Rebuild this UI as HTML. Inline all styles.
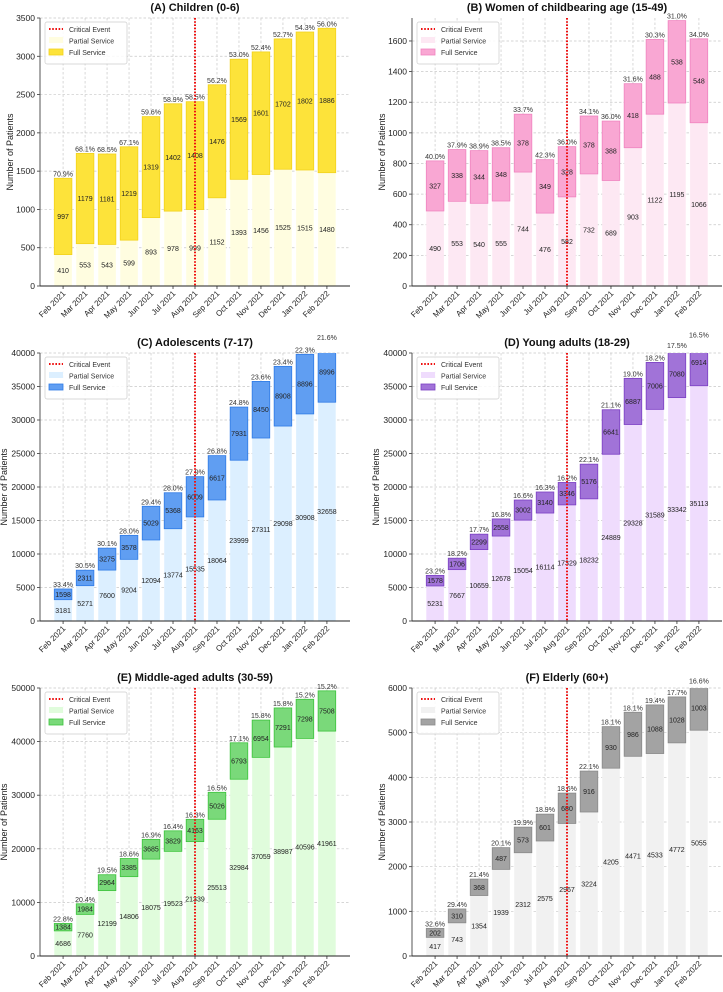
<!DOCTYPE html>
<html><head><meta charset="utf-8">
<style>
html,body{margin:0;padding:0;background:#fff;}
svg{display:block;font-family:"Liberation Sans","DejaVu Sans",sans-serif;}
</style></head>
<body>
<svg id="chart" width="723" height="992" viewBox="0 0 723 992" xmlns="http://www.w3.org/2000/svg"></svg>
<script>
const months = ["Feb 2021","Mar 2021","Apr 2021","May 2021","Jun 2021","Jul 2021","Aug 2021","Sep 2021","Oct 2021","Nov 2021","Dec 2021","Jan 2022","Feb 2022"];
const criticalIndex = 6;

const partialA = [410,553,543,599,893,978,999,1152,1393,1456,1525,1515,1480];
const fullA = [997,1179,1181,1219,1319,1402,1408,1476,1569,1601,1702,1802,1886];
const ticksA = [0,500,1000,1500,2000,2500,3000,3500];

const partialB = [490,553,540,555,744,476,582,732,689,903,1122,1195,1066];
const fullB = [327,338,344,348,378,349,328,378,388,418,488,538,548];
const ticksB = [0,200,400,600,800,1000,1200,1400,1600];

const partialC = [3181,5271,7600,9204,12094,13774,15535,18064,23999,27311,29098,30908,32658];
const fullC = [1598,2311,3275,3578,5029,5368,6009,6617,7931,8450,8908,8896,8996];
const ticksC = [0,5000,10000,15000,20000,25000,30000,35000,40000];

const partialD = [5231,7667,10659,12678,15054,16114,17329,18232,24889,29328,31589,33342,35113];
const fullD = [1578,1706,2299,2558,3002,3140,3346,5176,6641,6887,7006,7080,6914];
const ticksD = [0,5000,10000,15000,20000,25000,30000,35000,40000];

const partialE = [4686,7760,12199,14806,18075,19523,21339,25513,32984,37059,38987,40596,41961];
const fullE = [1384,1984,2964,3385,3685,3829,4163,5026,6793,6954,7291,7298,7508];
const ticksE = [0,10000,20000,30000,40000,50000];

const partialF = [417,743,1354,1939,2312,2575,2967,3224,4205,4471,4533,4772,5055];
const fullF = [202,310,368,487,573,601,680,916,930,986,1088,1028,1003];
const ticksF = [0,1000,2000,3000,4000,5000,6000];

const NS = "http://www.w3.org/2000/svg";
const svg = document.getElementById("chart");
function mk(tag, attrs, parent, text){
  const e = document.createElementNS(NS, tag);
  for (const k in attrs) e.setAttribute(k, attrs[k]);
  if (text !== undefined) e.textContent = text;
  parent.appendChild(e);
  return e;
}

const panels = [
  {id:"a", title:"(A) Children (0-6)", partial:partialA, full:fullA, ticks:ticksA, ymax:3500, left:40, right:350, top:18, bottom:286, pc:"#fffde0", fc:"#fde33a", fe:"#f2d21c"},
  {id:"b", title:"(B) Women of childbearing age (15-49)", partial:partialB, full:fullB, ticks:ticksB, ymax:1750, left:412, right:722, top:18, bottom:286, pc:"#fde8f3", fc:"#f9a7d3", fe:"#f084c0"},
  {id:"c", title:"(C) Adolescents (7-17)", partial:partialC, full:fullC, ticks:ticksC, ymax:40000, left:40, right:350, top:353, bottom:621, pc:"#dcefff", fc:"#609ef2", fe:"#2f7be6"},
  {id:"d", title:"(D) Young adults (18-29)", partial:partialD, full:fullD, ticks:ticksD, ymax:40000, left:412, right:722, top:353, bottom:621, pc:"#efdcfd", fc:"#a173d8", fe:"#7b3fc4"},
  {id:"e", title:"(E) Middle-aged adults (30-59)", partial:partialE, full:fullE, ticks:ticksE, ymax:50000, left:40, right:350, top:688, bottom:956, pc:"#e0fcdc", fc:"#7ad97a", fe:"#3cc43c"},
  {id:"f", title:"(F) Elderly (60+)", partial:partialF, full:fullF, ticks:ticksF, ymax:6000, left:412, right:722, top:688, bottom:956, pc:"#f1f1f1", fc:"#a3a3a3", fe:"#8a8a8a"}
];

panels.forEach(p => {
  const g = mk("g", {}, svg);
  
  
  const n = months.length;
  const xmin = -1.05, xmax = n - 1 + 1.05;
  const xs = i => p.left + (i - xmin) / (xmax - xmin) * (p.right - p.left);
  const ys = v => p.bottom - v / p.ymax * (p.bottom - p.top);
  const step = (p.right - p.left) / (xmax - xmin);
  const bw = step * 0.8;
  const clipId = "clip-" + p.id;
  const cp = mk("clipPath", {id: clipId}, g);
  mk("rect", {x:p.left, y:p.top, width:p.right-p.left, height:p.bottom-p.top}, cp);

  const title = mk("text", {x:(p.left+p.right)/2, y:p.top-7, "text-anchor":"middle", "font-size":"11", "font-weight":"bold", fill:"#111"}, g, p.title);
  
  

  // grid
  p.ticks.forEach(t => {
    const l = mk("line", {x1:p.left, x2:p.right, y1:ys(t), y2:ys(t), stroke:"#c8c8c8", "stroke-width":"0.7", "stroke-dasharray":"2.5,2"}, g);
    
    
  });
  months.forEach((m, i) => {
    const l = mk("line", {x1:xs(i), x2:xs(i), y1:p.top, y2:p.bottom, stroke:"#c8c8c8", "stroke-width":"0.7", "stroke-dasharray":"2.5,2"}, g);
    
    
  });

  const bars = mk("g", {"clip-path":"url(#"+clipId+")"}, g);
  const labels = mk("g", {}, g);
  months.forEach((m, i) => {
    const pv = p.partial[i], fv = p.full[i], tot = pv + fv;
    const x = xs(i) - bw/2;
    const r1 = mk("rect", {x:x, y:ys(pv), width:bw, height:ys(0)-ys(pv), fill:p.pc}, bars);
    
    
    const r2 = mk("rect", {x:x, y:ys(tot), width:bw, height:ys(pv)-ys(tot), fill:p.fc, stroke:p.fe, "stroke-width":"0.8"}, bars);
    
    
    const t1 = mk("text", {x:xs(i), y:(ys(0)+ys(pv))/2+2.5, "text-anchor":"middle", "font-size":"7", fill:"#222"}, labels, String(pv));
    
    
    const t2 = mk("text", {x:xs(i), y:(ys(pv)+ys(tot))/2+2.5, "text-anchor":"middle", "font-size":"7", fill:"#222"}, labels, String(fv));
    
    
    const t3 = mk("text", {x:xs(i), y:ys(tot)-2, "text-anchor":"middle", "font-size":"7", fill:"#333"}, labels, (fv/tot*100).toFixed(1) + "%");
    
    
    const tk = mk("line", {x1:xs(i), x2:xs(i), y1:p.bottom, y2:p.bottom+3, stroke:"#333", "stroke-width":"0.8"}, g);
    
    
    const tx = xs(i)+3, ty = p.bottom + 8;
    const xl = mk("text", {x:tx, y:ty, "text-anchor":"end", "font-size":"8", fill:"#222", transform:"rotate(-45 "+tx+" "+ty+")"}, g, m);
    
    
  });

  // critical line
  const cl = mk("line", {x1:xs(criticalIndex), x2:xs(criticalIndex), y1:p.top, y2:p.bottom, stroke:"#ee1111", "stroke-width":"2", "stroke-dasharray":"1.6,1.6"}, g);
  
  

  // y ticks
  p.ticks.forEach(t => {
    const tk = mk("line", {x1:p.left-3, x2:p.left, y1:ys(t), y2:ys(t), stroke:"#333", "stroke-width":"0.8"}, g);
    
    
    const tl = mk("text", {x:p.left-5, y:ys(t)+3, "text-anchor":"end", "font-size":"8.5", fill:"#222"}, g, String(t));
    
    
  });
  // spines
  const sl = mk("line", {x1:p.left, x2:p.left, y1:p.top, y2:p.bottom, stroke:"#555", "stroke-width":"1"}, g);
  
  
  const sb = mk("line", {x1:p.left, x2:p.right, y1:p.bottom, y2:p.bottom, stroke:"#222", "stroke-width":"1"}, g);
  
  

  // y title
  const yax = p.left - (p.ymax >= 10000 ? 33 : 27), ymid = (p.top+p.bottom)/2;
  const yt = mk("text", {x:yax, y:ymid, "text-anchor":"middle", "font-size":"9", fill:"#222", transform:"rotate(-90 "+yax+" "+ymid+")"}, g, "Number of Patients");
  
  

  // legend
  const lg = mk("g", {}, g);
  
  
  const lx = p.left + 5, ly = p.top + 4;
  mk("rect", {x:lx, y:ly, width:82, height:42, fill:"#fff", "fill-opacity":"0.85", stroke:"#ccc", "stroke-width":"0.7", rx:"2"}, lg);
  const e1 = mk("line", {x1:lx+4, x2:lx+18, y1:ly+7, y2:ly+7, stroke:"#ee1111", "stroke-width":"2", "stroke-dasharray":"1.6,1.6"}, lg);
  
  
  mk("text", {x:lx+24, y:ly+10, "font-size":"7", fill:"#333"}, lg, "Critical Event");
  const e2 = mk("rect", {x:lx+4, y:ly+15, width:14, height:6, fill:p.pc}, lg);
  
  
  mk("text", {x:lx+24, y:ly+21.5, "font-size":"7", fill:"#333"}, lg, "Partial Service");
  const e3 = mk("rect", {x:lx+4, y:ly+27, width:14, height:6, fill:p.fc, stroke:p.fe, "stroke-width":"0.8"}, lg);
  
  
  mk("text", {x:lx+24, y:ly+33, "font-size":"7", fill:"#333"}, lg, "Full Service");
});
</script>
</body></html>
